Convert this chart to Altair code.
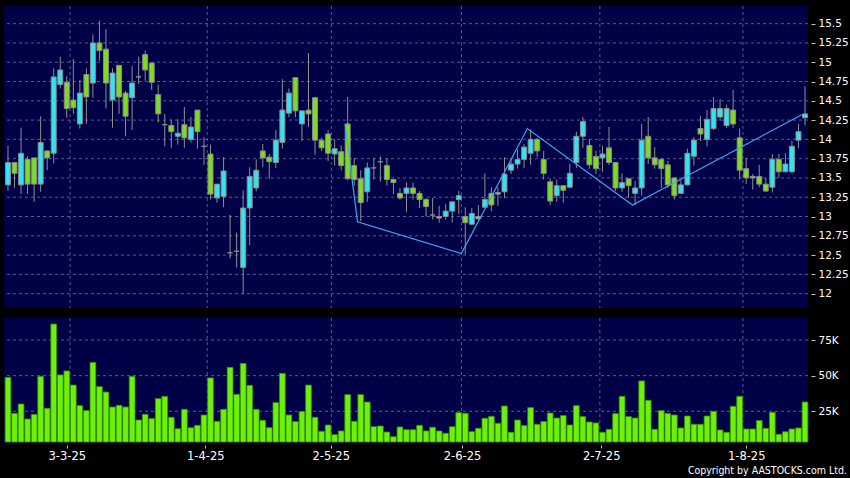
import altair as alt
import pandas as pd

# ---------------- data ----------------
opens = [13.41, 13.70, 13.41, 13.74, 13.76, 13.42, 13.85, 13.82, 14.71, 14.74,
         14.51, 14.20, 14.84, 14.73, 15.25, 15.17, 14.51, 14.96, 14.60, 14.54,
         14.81, 15.10, 14.99, 14.58, 14.19, 14.18, 14.04, 14.19, 14.00, 14.38,
         13.91, 13.81, 13.24, 13.26, 12.53, 12.55, 12.34, 13.11, 13.37, 13.85,
         13.77, 13.70, 13.96, 14.34, 14.80, 14.20, 14.38, 14.54, 13.99, 14.07,
         13.81, 13.84, 14.20, 13.66, 13.49, 13.32, 13.63, 13.71, 13.66, 13.48,
         13.30, 13.30, 13.37, 13.30, 13.22, 13.02, 13.00, 13.00, 13.07, 13.22,
         13.00, 12.90, 12.97, 13.12, 13.30, 13.29, 13.32, 13.60, 13.68, 13.74,
         13.82, 14.00, 13.74, 13.45, 13.27, 13.40, 13.38, 13.70, 14.04, 13.92,
         13.78, 13.76, 13.89, 13.70, 13.37, 13.49, 13.30, 13.37, 14.04, 13.76,
         13.74, 13.67, 13.50, 13.30, 13.41, 13.78, 14.14, 14.00, 14.14, 14.29,
         14.18, 14.38, 14.02, 13.62, 13.50, 13.52, 13.42, 13.38, 13.74, 13.58,
         13.58, 13.99, 14.28]
highs = [13.92, 13.70, 14.15, 13.78, 13.76, 14.30, 13.86, 14.92, 15.07, 14.82,
         15.04, 14.77, 14.92, 15.36, 15.54, 15.43, 14.92, 14.96, 14.63, 14.95,
         15.07, 15.15, 14.99, 14.71, 14.33, 14.26, 14.26, 14.42, 14.29, 14.38,
         14.03, 13.93, 13.42, 13.77, 13.02, 12.79, 13.34, 13.64, 13.74, 13.94,
         13.81, 14.12, 14.78, 14.66, 14.80, 14.37, 15.12, 14.54, 14.02, 14.12,
         14.00, 13.92, 14.55, 13.76, 13.60, 13.70, 13.76, 13.78, 13.75, 13.48,
         13.37, 13.44, 13.44, 13.33, 13.24, 13.24, 13.14, 13.16, 13.19, 13.33,
         13.12, 13.11, 13.15, 13.56, 13.38, 13.38, 13.77, 13.76, 13.87, 13.94,
         14.13, 14.02, 13.85, 13.49, 13.48, 13.40, 13.68, 14.10, 14.29, 14.00,
         13.85, 13.92, 14.16, 13.70, 13.56, 13.49, 13.46, 14.20, 14.29, 13.90,
         13.76, 13.72, 13.50, 13.47, 13.88, 14.03, 14.30, 14.38, 14.55, 14.52,
         14.45, 14.64, 14.14, 13.76, 13.55, 13.67, 13.50, 13.81, 13.81, 13.82,
         13.98, 14.20, 14.69]
lows = [13.33, 13.37, 13.29, 13.29, 13.19, 13.32, 13.60, 13.69, 14.66, 14.28,
        14.33, 14.14, 14.20, 14.54, 15.02, 14.40, 14.15, 14.33, 14.04, 14.12,
        14.72, 14.76, 14.64, 14.22, 13.91, 13.89, 13.93, 13.89, 13.96, 13.88,
        13.67, 13.22, 13.18, 13.12, 12.46, 12.34, 12.00, 12.63, 13.33, 13.64,
        13.49, 13.63, 13.88, 14.29, 14.29, 13.98, 14.16, 13.80, 13.85, 13.72,
        13.66, 13.60, 13.47, 13.40, 12.94, 13.19, 13.48, 13.45, 13.40, 13.29,
        13.22, 13.06, 13.22, 13.11, 13.00, 12.96, 12.92, 12.96, 12.92, 13.03,
        12.51, 12.89, 12.96, 13.11, 13.07, 13.14, 13.24, 13.55, 13.62, 13.63,
        13.67, 13.77, 13.48, 13.15, 13.19, 13.18, 13.37, 13.63, 13.89, 13.62,
        13.55, 13.58, 13.67, 13.33, 13.32, 13.24, 13.15, 13.27, 13.68, 13.62,
        13.37, 13.37, 13.22, 13.30, 13.40, 13.66, 13.98, 13.91, 14.12, 14.24,
        14.15, 14.15, 13.48, 13.42, 13.35, 13.38, 13.32, 13.31, 13.50, 13.58,
        13.56, 13.89, 14.18]
closes = [13.70, 13.56, 13.82, 13.42, 13.42, 13.96, 13.76, 14.81, 14.90, 14.40,
          14.41, 14.60, 14.55, 15.25, 15.15, 14.73, 14.86, 14.55, 14.30, 14.73,
          14.81, 14.90, 14.74, 14.33, 14.19, 14.10, 14.08, 14.02, 14.16, 14.10,
          13.91, 13.29, 13.42, 13.59, 12.53, 12.55, 13.11, 13.52, 13.60, 13.76,
          13.71, 13.99, 14.38, 14.60, 14.37, 14.37, 14.33, 13.99, 13.89, 13.82,
          13.88, 13.66, 13.49, 13.48, 13.18, 13.63, 13.63, 13.71, 13.48, 13.44,
          13.24, 13.37, 13.30, 13.22, 13.13, 13.02, 12.98, 13.07, 13.19, 13.27,
          12.92, 13.04, 13.00, 13.22, 13.15, 13.31, 13.55, 13.68, 13.74, 13.90,
          14.00, 13.85, 13.56, 13.20, 13.40, 13.34, 13.56, 14.04, 14.23, 13.67,
          13.62, 13.81, 13.70, 13.37, 13.44, 13.40, 13.37, 13.99, 13.76, 13.67,
          13.62, 13.41, 13.27, 13.41, 13.82, 13.99, 14.07, 14.26, 14.40, 14.40,
          14.40, 14.20, 13.60, 13.50, 13.52, 13.42, 13.33, 13.74, 13.58, 13.68,
          13.91, 14.10, 14.33]
volumes_k = [48.8, 23.6, 30.1, 19.6, 22.9, 49.5, 27.1, 86.2, 50.5, 53.3,
             43.4, 29.0, 25.5, 59.3, 42.3, 38.5, 28.0, 29.2, 28.0, 49.5,
             18.9, 22.9, 19.9, 33.9, 35.5, 20.8, 12.8, 26.4, 13.5, 15.2,
             22.4, 48.4, 18.0, 26.4, 55.8, 36.9, 58.6, 43.2, 26.4, 18.7,
             13.5, 31.1, 51.6, 22.4, 17.8, 24.8, 43.4, 20.8, 11.0, 15.4,
             8.6, 11.2, 36.7, 18.0, 36.7, 31.5, 14.2, 14.7, 10.5, 7.2,
             14.0, 12.1, 12.1, 15.2, 11.2, 13.8, 11.2, 9.6, 14.2, 24.1,
             23.6, 10.7, 13.1, 20.1, 21.5, 16.6, 28.7, 10.3, 18.9, 15.0,
             27.6, 15.9, 17.8, 23.8, 20.3, 22.0, 15.4, 29.0, 21.3, 17.5,
             16.8, 10.3, 12.4, 23.4, 35.5, 21.3, 20.3, 46.3, 32.7, 12.4,
             25.5, 23.4, 22.4, 13.3, 21.7, 15.9, 15.9, 21.7, 25.0, 11.9,
             10.3, 28.5, 35.5, 12.6, 12.6, 18.5, 13.1, 24.3, 8.9, 10.7,
             12.6, 13.3, 31.5]

date_labels = ["3-3-25", "1-4-25", "2-5-25", "2-6-25", "2-7-25", "1-8-25"]
date_label_pos = [9.0, 30.2, 49.4, 69.5, 90.8, 113.0]
date_grid_pos = [9.5, 30.5, 49.5, 69.4, 90.6, 112.5]

zigzag_x = [51.6, 53.5, 69.4, 79.5, 95.6, 121.5]
zigzag_y = [14.20, 12.93, 12.52, 14.14, 13.15, 14.32]

price_ticks = [12.0, 12.25, 12.5, 12.75, 13.0, 13.25, 13.5, 13.75,
               14.0, 14.25, 14.5, 14.75, 15.0, 15.25, 15.5]
volume_ticks = [25000, 50000, 75000]
copyright_text = "Copyright by AASTOCKS.com Ltd."

# ---------------- page: black, no margin ----------------
try:
    import altair.utils.html as _ah
    _orig_tpl = _ah.TEMPLATES["standard"]

    class _BlackPage:
        def render(self, **kw):
            html = _orig_tpl.render(**kw)
            return html.replace(
                "</head>",
                "<style>html,body{margin:0;padding:0;background:#000;overflow:hidden;}</style>\n</head>",
                1,
            )

    _ah.TEMPLATES["standard"] = _BlackPage()
except Exception:
    pass

# ---------------- tables ----------------
n = len(opens)
df = pd.DataFrame({
    "i": list(range(n)),
    "open": opens, "high": highs, "low": lows, "close": closes,
    "volume": [v * 1000 for v in volumes_k],
})
zz = pd.DataFrame({"zx": zigzag_x, "zy": zigzag_y, "k": list(range(len(zigzag_x)))})
pgrid = pd.DataFrame({"p": price_ticks})
vgrid_df = pd.DataFrame({"g": date_grid_pos})
volgrid = pd.DataFrame({"v": volume_ticks})
cp = pd.DataFrame({"t": [copyright_text]})

NAVY = "#000046"
GRID = "#5a5a8c"
CYAN = "#33e4f0"
GREEN = "#7ddc22"
VOLG = "#6cf20a"
FONT = "DejaVu Sans"

xs = alt.Scale(domain=[-0.61, 122.46], nice=False, zero=False)
ys_price = alt.Scale(domain=[11.814, 15.729], nice=False, zero=False)
ys_vol = alt.Scale(domain=[3470, 90430], nice=False, zero=False)

price_axis = alt.Axis(orient="right", values=price_ticks, labelExpr="'' + datum.value", title=None,
                      grid=False, domain=False, tickSize=4, tickColor="#c0c0c0",
                      offset=3, labelPadding=3, labelColor="#ffffff", labelFont=FONT,
                      labelFontSize=10.5, labelAlign="left", labelBaseline="middle")
vol_axis = alt.Axis(orient="right", values=volume_ticks, labelExpr="(datum.value/1000)+'K'",
                    title=None, grid=False, domain=False, tickSize=4, tickColor="#c0c0c0",
                    offset=3, labelPadding=3, labelColor="#ffffff", labelFont=FONT,
                    labelFontSize=10.5, labelAlign="left", labelBaseline="middle")

expr = "''"
for pos, lab in reversed(list(zip(date_label_pos, date_labels))):
    expr = f"abs(datum.value-{pos})<0.01?'{lab}':({expr})"
x_axis = alt.Axis(orient="bottom", values=date_label_pos, labelExpr=expr, title=None,
                  grid=False, domain=False, tickSize=3, tickColor="#c0c0c0", offset=3,
                  labelPadding=2, labelColor="#ffffff", labelFont=FONT, labelFontSize=11.5,
                  labelAlign="center", labelBaseline="top", labelOverlap=False)

# ---------------- price panel ----------------
hgrid = alt.Chart(pgrid).mark_rule(color=GRID, strokeDash=[3, 3], strokeWidth=1).encode(
    y=alt.Y("p:Q", scale=ys_price, axis=price_axis))
vgrid = alt.Chart(vgrid_df).mark_rule(color=GRID, strokeDash=[3, 3], strokeWidth=1).encode(
    x=alt.X("g:Q", scale=xs, axis=None))
wicks = alt.Chart(df).mark_rule(color="#8f8f8f", strokeWidth=1).encode(
    x=alt.X("i:Q", scale=xs, axis=None),
    y=alt.Y("low:Q", scale=ys_price, axis=price_axis), y2="high:Q")
bodies = alt.Chart(df).transform_calculate(
    x0="datum.i-0.38", x1="datum.i+0.38",
    dir="datum.close>datum.open?'up':(datum.close<datum.open?'down':'flat')",
).mark_rect(stroke="#8a8a8a", strokeWidth=1).encode(
    x=alt.X("x0:Q", scale=xs, axis=None), x2="x1:Q",
    y=alt.Y("open:Q", scale=ys_price, axis=price_axis), y2="close:Q",
    fill=alt.Fill("dir:N", scale=alt.Scale(domain=["up", "down", "flat"],
                                           range=[CYAN, GREEN, "#a0a0a0"]), legend=None))
zigzag = alt.Chart(zz).mark_line(color="#3fa6ee", strokeWidth=1.2).encode(
    x=alt.X("zx:Q", scale=xs, axis=None),
    y=alt.Y("zy:Q", scale=ys_price, axis=price_axis), order="k:O")

price = alt.layer(hgrid, vgrid, wicks, bodies, zigzag).properties(width=804, height=302)

# ---------------- volume panel ----------------
vhgrid = alt.Chart(volgrid).mark_rule(color=GRID, strokeDash=[3, 3], strokeWidth=1).encode(
    y=alt.Y("v:Q", scale=ys_vol, axis=vol_axis))
vvgrid = alt.Chart(vgrid_df).mark_rule(color=GRID, strokeDash=[3, 3], strokeWidth=1).encode(
    x=alt.X("g:Q", scale=xs, axis=x_axis))
vbars = alt.Chart(df).transform_calculate(
    x0="datum.i-0.44", x1="datum.i+0.44",
).mark_rect(fill=VOLG, stroke="#3c8e00", strokeWidth=0.8).encode(
    x=alt.X("x0:Q", scale=xs, axis=x_axis), x2="x1:Q",
    y=alt.Y("volume:Q", scale=ys_vol, axis=vol_axis), y2=alt.value(124))
cptext = alt.Chart(cp).mark_text(align="right", baseline="middle", color="#ffffff",
                                 font="DejaVu Sans Condensed, DejaVu Sans", fontSize=10.5).encode(
    x=alt.value(843), y=alt.value(152.7), text="t:N")

volume = alt.layer(vhgrid, vvgrid, vbars, cptext).properties(width=804, height=124)

chart = alt.vconcat(price, volume, spacing=8).properties(
    padding={"left": 3, "top": 5, "right": 0, "bottom": 0},
    background="#000000",
).configure_view(fill=NAVY, stroke=None)

chart.save("out.html", embed_options={"renderer": "svg", "actions": False})
